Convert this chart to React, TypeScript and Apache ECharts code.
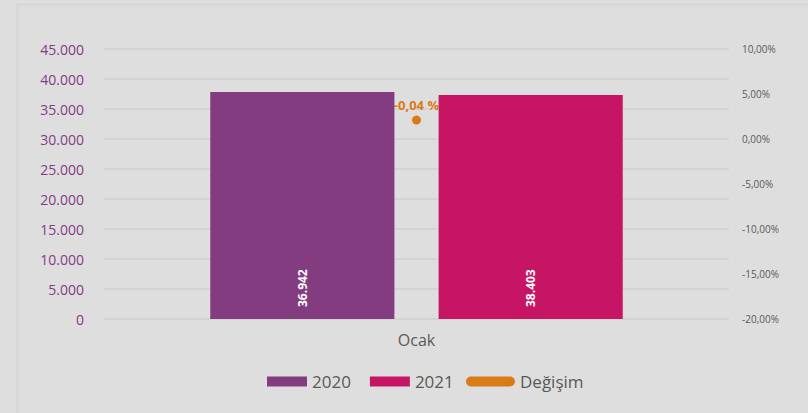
import React, { useEffect, useRef } from "react";
import * as echarts from "echarts";

const categories = ["Ocak"];
const series2020 = [37830];
const series2021 = [37330];
const labels2020 = ["36.942"];
const labels2021 = ["38.403"];
const changeValues = [2.1];
const changeLabels = ["-0,04 %"];
const leftTicks = { min: 0, max: 45000, interval: 5000 };
const rightTicks = { min: -20, max: 10, interval: 5 };

export default function App() {
  const ref = useRef<HTMLDivElement>(null);
  useEffect(() => {
    if (!ref.current) return;
    const chart = echarts.init(ref.current, null, { renderer: "svg" });
    const font = "'Open Sans', 'Noto Sans', sans-serif";
    chart.setOption({
      animation: false,
      backgroundColor: "#dedede",
      textStyle: { fontFamily: font },
      graphic: [
        {
          type: "rect",
          shape: { x: 17.5, y: 4.5, width: 800, height: 420 },
          style: { fill: "none", stroke: "#d8d8d8", lineWidth: 3 },
          silent: true,
        },
      ],
      grid: { left: 104, right: 79, top: 49, bottom: 94 },
      legend: [
        {
          data: ["2020", "2021"],
          left: 267,
          top: 373,
          padding: 0,
          itemWidth: 40,
          itemHeight: 10,
          itemGap: 19,
          icon: "rect",
          textStyle: { fontSize: 17, color: "#595959", fontFamily: font },
        },
        {
          data: [
            {
              name: "Değişim",
              icon: "path://M5,0 H44 A5,5 0 0 1 44,10 H5 A5,5 0 0 1 5,0 Z",
              itemStyle: { color: "#d97b16" },
            },
          ],
          left: 466,
          top: 373,
          padding: 0,
          itemWidth: 49,
          itemHeight: 10,
          textStyle: { fontSize: 17, color: "#595959", fontFamily: font },
        },
      ],
      xAxis: {
        type: "category",
        data: categories,
        axisLine: { show: false },
        axisTick: { show: false },
        axisLabel: { color: "#595959", fontSize: 16, margin: 13, fontFamily: font },
      },
      yAxis: [
        {
          type: "value",
          min: leftTicks.min,
          max: leftTicks.max,
          interval: leftTicks.interval,
          axisLine: { show: false },
          axisTick: { show: false },
          splitLine: { lineStyle: { color: "#d4d4d4", width: 2 } },
          axisLabel: {
            color: "#833c83",
            fontSize: 14,
            margin: 20,
            fontFamily: font,
            formatter: (v: number) => v.toLocaleString("de-DE"),
          },
        },
        {
          type: "value",
          min: rightTicks.min,
          max: rightTicks.max,
          interval: rightTicks.interval,
          axisLine: { show: false },
          axisTick: { show: false },
          splitLine: { show: false },
          axisLabel: {
            color: "#595959",
            fontSize: 10,
            margin: 13,
            fontFamily: font,
            formatter: (v: number) => v.toFixed(2).replace(".", ",") + "%",
          },
        },
      ],
      series: [
        {
          name: "2020",
          type: "bar",
          data: series2020,
          barGap: "24%",
          barCategoryGap: "34%",
          itemStyle: { color: "#833c80" },
          label: {
            show: true,
            position: "insideBottom",
            rotate: 90,
            distance: 12,
            align: "left",
            verticalAlign: "middle",
            color: "#ffffff",
            fontWeight: "bold",
            fontSize: 12,
            fontFamily: font,
            formatter: (p: any) => labels2020[p.dataIndex],
          },
        },
        {
          name: "2021",
          type: "bar",
          data: series2021,
          itemStyle: { color: "#c71565" },
          label: {
            show: true,
            position: "insideBottom",
            rotate: 90,
            distance: 12,
            align: "left",
            verticalAlign: "middle",
            color: "#ffffff",
            fontWeight: "bold",
            fontSize: 12,
            fontFamily: font,
            formatter: (p: any) => labels2021[p.dataIndex],
          },
        },
        {
          name: "Değişim",
          type: "line",
          yAxisIndex: 1,
          data: changeValues,
          symbol: "circle",
          symbolSize: 9,
          itemStyle: { color: "#d97b16" },
          lineStyle: { color: "#d97b16", width: 4 },
          label: {
            show: true,
            position: "top",
            distance: 4,
            color: "#d97b16",
            fontWeight: "bold",
            fontSize: 13,
            fontFamily: font,
            formatter: (p: any) => changeLabels[p.dataIndex],
          },
        },
      ],
    });
    return () => chart.dispose();
  }, []);
  return (
    <div
      ref={ref}
      style={{ position: "absolute", left: 0, top: 0, width: 808, height: 413 }}
    />
  );
}
